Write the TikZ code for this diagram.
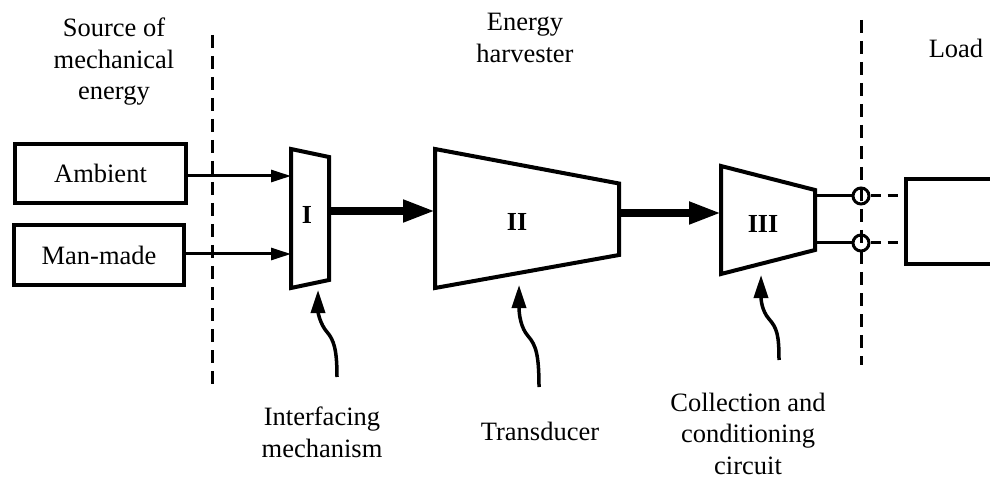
\documentclass[tikz,border=0pt]{standalone}
\usepackage{fontspec}
\setmainfont{Liberation Serif}
\usetikzlibrary{arrows.meta}
\begin{document}
\begin{tikzpicture}[x=1pt,y=-1pt,
  txt/.style={align=center,inner sep=0pt,font=\fontsize{26.5}{31.5}\selectfont},
  num/.style={inner sep=0pt,font=\fontsize{26}{31}\selectfont\bfseries},
  srcbox/.style={draw,line width=4pt,inner sep=0pt,font=\fontsize{26.5}{31.5}\selectfont},
  block/.style={draw,line width=4pt,line join=miter},
  thinarrow/.style={line width=3pt,-{Triangle[length=20pt,width=12pt]}},
  thickarrow/.style={line width=7.5pt,-{Triangle[length=32pt,width=21pt]}},
  curvearrow/.style={line width=3.5pt,-{Triangle[length=23pt,width=14pt]}},
  divider/.style={line width=3pt,dash pattern=on 13pt off 8pt},
  wire/.style={line width=3pt},
  dashwire/.style={line width=3pt,dash pattern=on 10pt off 7pt},
  terminal/.style={draw,line width=3pt,circle,minimum size=16pt,inner sep=0pt}
]
\useasboundingbox (0,0) rectangle (990,478);

% dividers
\coordinate (d1top) at (212,35);
\coordinate (d1bot) at (212,385);
\coordinate (d2top) at (861,20);
\coordinate (d2bot) at (861,365);
\draw[divider] (d1top) -- (d1bot);
\draw[divider] (d2top) -- (d2bot);

% headings
\node[txt] (hsrc) at (114,62) {Source of\\mechanical\\energy};
\node[txt] (hharv) at (525,38) {Energy\\harvester};
\node[txt] (hload) at (956,48.5) {Load};

% sources
\node[srcbox,minimum width=171pt,minimum height=59pt] (amb) at (100.5,173.5) {Ambient};
\node[srcbox,minimum width=170pt,minimum height=60pt] (man) at (99,255) {Man-made};

% block I
\coordinate (Itl) at (291,149);
\coordinate (Itr) at (329,157);
\coordinate (Ibr) at (329,280);
\coordinate (Ibl) at (291,288);
\draw[block] (Itl) -- (Itr) -- (Ibr) -- (Ibl) -- cycle;
\node[num] (nI) at (307,215) {I};
\coordinate (Iin1) at (291,176);
\coordinate (Iin2) at (291,254);
\coordinate (Iout) at (329,211);

% block II
\coordinate (IItl) at (435,149);
\coordinate (IItr) at (619,183.5);
\coordinate (IIbr) at (619,255);
\coordinate (IIbl) at (435,288);
\draw[block] (IItl) -- (IItr) -- (IIbr) -- (IIbl) -- cycle;
\node[num] (nII) at (517,221.5) {II};
\coordinate (IIin) at (435,211);
\coordinate (IIout) at (619,213);

% block III
\coordinate (IIItl) at (721,166);
\coordinate (IIItr) at (815,190);
\coordinate (IIIbr) at (815,250);
\coordinate (IIIbl) at (721,274);
\draw[block] (IIItl) -- (IIItr) -- (IIIbr) -- (IIIbl) -- cycle;
\node[num] (nIII) at (763,223.5) {III};
\coordinate (IIIin) at (721,213);
\coordinate (IIIo1) at (815,196);
\coordinate (IIIo2) at (815,243);

% arrows
\draw[thinarrow] (amb.east |- Iin1) -- (Iin1);
\draw[thinarrow] (man.east |- Iin2) -- (Iin2);
\draw[thickarrow] (Iout) -- (IIin);
\draw[thickarrow] (IIout) -- (IIIin);

% terminals and load
\node[terminal] (t1) at (861,196) {};
\node[terminal] (t2) at (861,243) {};
\draw[wire] (IIIo1) -- (t1.west);
\draw[wire] (IIIo2) -- (t2.west);
\coordinate (Ltr) at (995,179);
\coordinate (Ltl) at (906,179);
\coordinate (Lbl) at (906,264);
\coordinate (Lbr) at (995,264);
\draw[block] (Ltr) -- (Ltl) -- (Lbl) -- (Lbr);
\draw[dashwire] (t1.east) -- (Ltl |- t1);
\draw[dashwire] (t2.east) -- (Ltl |- t2);

% captions
\node[txt] (cI) at (322,432.5) {Interfacing\\mechanism};
\node[txt] (cII) at (540,431.5) {Transducer};
\node[txt] (cIII) at (748,433.5) {Collection and\\conditioning\\circuit};

% curved pointers
\coordinate (pIs) at (337,377);
\coordinate (pIe) at (318,290);
\coordinate (pIIs) at (539,387);
\coordinate (pIIe) at (519,285);
\coordinate (pIIIs) at (779,360);
\coordinate (pIIIe) at (761,275);
\draw[curvearrow] (pIs) .. controls (337,350) and (334,340) .. (327,332) .. controls (320,324) and (318,312) .. (pIe);
\draw[curvearrow] (pIIs) .. controls (539,355) and (536,345) .. (528,336) .. controls (521,328) and (519,315) .. (pIIe);
\draw[curvearrow] (pIIIs) .. controls (779,335) and (777,328) .. (769,319) .. controls (762,311) and (761,300) .. (pIIIe);
\end{tikzpicture}
\end{document}
